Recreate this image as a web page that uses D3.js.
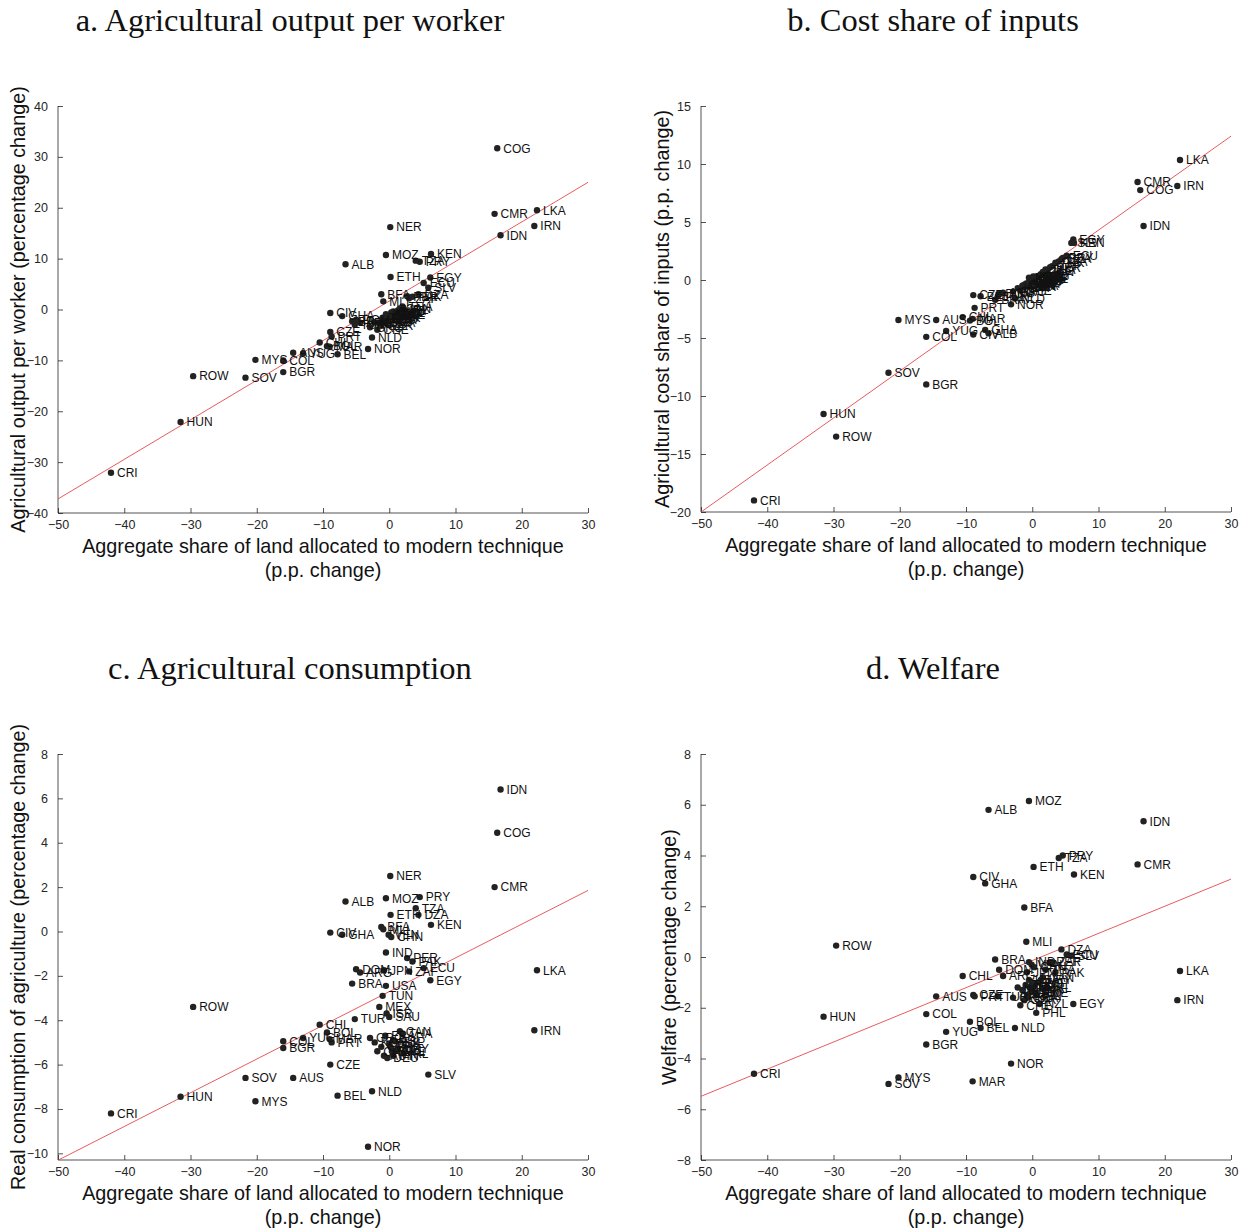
<!DOCTYPE html>
<html>
<head>
<meta charset="utf-8">
<script src="https://cdn.jsdelivr.net/npm/d3@7/dist/d3.min.js"></script>
<style>
  html, body { margin: 0; padding: 0; background: #fff; }
  svg { display: block; }
</style>
</head>
<body>
<svg id="chart" width="1247" height="1230"></svg>
<script>
// Country codes and the common x variable (aggregate share of land under the modern technique, p.p. change)
const countries = [
  "CRI","HUN","ROW","SOV","MYS","BGR","COL","AUS","YUG","CHL",
  "BOL","MAR","CIV","CZE","PRT","BEL","GHA","ALB","BRA","TUR",
  "DOM","ARG","NOR","NLD","GRC","KOR","CHE","GBR","MEX","TUN",
  "BFA","MLI","JPN","AUT","FRA","MOZ","USA","IND","ISR","DEU",
  "VEN","DNK","SAU","NER","ETH","ITA","CHN","SWE","FIN","PHL",
  "ESP","NZL","URY","CAN","THA","IRL","PER","ZAF","PAK","TZA",
  "DZA","PRY","ECU","SLV","EGY","KEN","CMR","COG","IDN","LKA",
  "IRN"
];
const landShare = [
  -42.0,-31.5,-29.6,-21.7,-20.2,-16.0,-16.0,-14.5,-13.0,-10.5,
  -9.4,-9.0,-8.9,-8.9,-8.7,-7.8,-7.1,-6.6,-5.6,-5.2,
  -5.0,-4.4,-3.2,-2.6,-2.9,-2.2,-1.8,-1.2,-1.5,-1.0,
  -1.2,-0.9,-0.8,-0.8,-0.6,-0.5,-0.5,-0.5,-0.4,-0.3,
  -0.1,0.0,0.0,0.15,0.2,0.2,0.3,0.4,0.6,0.6,
  0.9,1.1,1.3,1.6,2.0,2.2,2.7,3.0,3.5,4.0,
  4.4,4.6,5.2,5.9,6.2,6.3,15.9,16.3,16.8,22.3,
  21.9
];
// a. Agricultural output per worker (percentage change)
const outputPerWorker = [
  -32.1,-22.1,-13.1,-13.4,-9.9,-12.3,-10.0,-8.5,-8.6,-6.5,
  -7.2,-7.3,-0.7,-4.4,-5.3,-8.8,-1.3,8.9,-2.3,-3.0,
  -2.0,-2.6,-7.75,-5.5,-3.5,-2.5,-4.0,-3.2,-2.7,-1.6,
  3.0,1.6,-1.8,-2.2,-2.6,10.7,-2.0,-0.9,-1.6,-1.9,
  -1.2,-1.7,-1.0,16.2,6.4,-1.3,-0.6,-1.1,-1.4,-0.4,
  -0.8,-0.6,-0.2,0.2,0.6,0.0,2.6,2.2,2.5,9.6,
  3.0,9.4,5.2,4.3,6.3,10.9,18.8,31.7,14.6,19.5,
  16.4
];
// b. Agricultural cost share of inputs (p.p. change)
const inputCostShare = [
  -19.0,-11.55,-13.5,-8.0,-3.45,-9.0,-4.9,-3.45,-4.4,-3.2,
  -3.5,-3.35,-4.7,-1.3,-2.4,-1.4,-4.3,-4.6,-1.7,-1.4,
  -1.2,-1.1,-2.1,-1.6,-1.0,-0.7,-0.9,-0.6,-0.5,-0.5,
  -0.4,-0.3,-0.4,-0.4,-0.5,0.2,-0.3,-0.2,-0.3,-0.2,
  -0.1,0.0,-0.1,0.3,0.2,0.0,0.1,0.1,0.2,0.3,
  0.3,0.4,0.5,0.7,0.9,0.8,1.1,1.2,1.5,1.6,
  1.8,1.9,2.1,3.2,3.5,3.2,8.45,7.75,4.65,10.35,
  8.1
];
// c. Real consumption of agriculture (percentage change)
const agConsumption = [
  -8.2,-7.45,-3.4,-6.6,-7.65,-5.25,-4.95,-6.6,-4.8,-4.2,
  -4.55,-4.85,-0.05,-6.0,-5.0,-7.4,-0.15,1.35,-2.35,-3.95,
  -1.7,-1.85,-9.7,-7.2,-4.8,-5.0,-5.4,-5.2,-3.4,-2.9,
  0.2,0.1,-1.75,-5.6,-4.7,1.5,-2.45,-0.95,-3.7,-5.7,
  -0.15,-5.05,-3.85,2.5,0.75,-5.2,-0.25,-5.4,-5.6,-4.9,
  -4.95,-5.35,-5.3,-4.5,-4.6,-5.5,-1.2,-1.8,-1.35,1.05,
  0.75,1.55,-1.65,-6.45,-2.2,0.3,2.0,4.45,6.4,-1.75,
  -4.45
];
// d. Welfare (percentage change)
const welfare = [
  -4.6,-2.35,0.45,-5.0,-4.75,-3.45,-2.25,-1.55,-2.95,-0.75,
  -2.55,-4.9,3.15,-1.5,-1.55,-2.8,2.9,5.8,-0.1,-1.55,
  -0.5,-0.75,-4.2,-2.8,-1.6,-1.2,-1.9,-1.7,-1.3,-1.1,
  1.95,0.6,-0.6,-1.5,-1.6,6.15,-0.9,-0.2,-1.2,-1.4,
  -0.3,-1.3,-1.0,9.6,3.55,-1.15,-0.4,-1.4,-1.5,-2.2,
  -1.0,-1.85,-0.9,-0.8,-0.5,-1.2,-0.2,-0.2,-0.6,3.9,
  0.3,4.0,0.1,0.05,-1.85,3.25,3.65,9.0,5.35,-0.55,
  -1.7
];

// Fitted linear trend per panel (intercept, slope)
const fitIntercepts = [1.66, 0.25, -2.71, -0.14];
const fitSlopes = [0.778, 0.405, 0.152, 0.107];

// Axis ticks
const xTicks = [-50, -40, -30, -20, -10, 0, 10, 20, 30];
const yTicksA = [-40, -30, -20, -10, 0, 10, 20, 30, 40];
const yTicksB = [-20, -15, -10, -5, 0, 5, 10, 15];
const yTicksC = [-10, -8, -6, -4, -2, 0, 2, 4, 6, 8];
const yTicksD = [-8, -6, -4, -2, 0, 2, 4, 6, 8];

const titles = ["a. Agricultural output per worker", "b. Cost share of inputs",
                "c. Agricultural consumption", "d. Welfare"];
const yLabels = ["Agricultural output per worker (percentage change)",
                 "Agricultural cost share of inputs (p.p. change)",
                 "Real consumption of agriculture (percentage change)",
                 "Welfare (percentage change)"];
const xLabelLines = ["Aggregate share of land allocated to modern technique", "(p.p. change)"];

const panels = [
  { values: outputPerWorker, yDomain: [-40, 40], yTicks: yTicksA, left: 58, top: 106, bottom: 513, yLabelX: 18 },
  { values: inputCostShare, yDomain: [-20, 15], yTicks: yTicksB, left: 701, top: 106, bottom: 512, yLabelX: 662 },
  { values: agConsumption, yDomain: [-10.3, 8], yTicks: yTicksC, left: 58, top: 754, bottom: 1160, yLabelX: 18 },
  { values: welfare, yDomain: [-8, 8], yTicks: yTicksD, left: 701, top: 754, bottom: 1160, yLabelX: 669 }
];
const plotWidth = 530;
const axisColor = "#262626";
const sans = "'Liberation Sans', Arial, Helvetica, sans-serif";
const serif = "'Liberation Serif', 'Times New Roman', serif";

const svg = d3.select("#chart");

panels.forEach((p, i) => {
  const right = p.left + plotWidth;
  const x = d3.scaleLinear().domain([-50, 30]).range([p.left, right]);
  const y = d3.scaleLinear().domain(p.yDomain).range([p.bottom, p.top]);
  const g = svg.append("g");

  const clipId = "clip" + i;
  svg.append("clipPath").attr("id", clipId)
    .append("rect").attr("x", p.left).attr("y", p.top)
    .attr("width", plotWidth).attr("height", p.bottom - p.top);

  // title
  g.append("text")
    .attr("x", (p.left + right) / 2 - 33)
    .attr("y", p.top - 75)
    .attr("text-anchor", "middle")
    .attr("font-family", serif)
    .attr("font-size", 32.5)
    .attr("fill", "#111")
    .text(titles[i]);

  // axes (inward ticks, left and bottom only)
  const xAxis = d3.axisBottom(x).tickValues(xTicks).tickSize(-5).tickPadding(10).tickFormat(d3.format("d"));
  const yAxis = d3.axisLeft(y).tickValues(p.yTicks).tickSize(-5).tickPadding(10).tickFormat(d3.format("d"));
  const gx = g.append("g").attr("transform", `translate(0,${p.bottom})`).call(xAxis);
  const gy = g.append("g").attr("transform", `translate(${p.left},0)`).call(yAxis);
  [gx, gy].forEach(ax => {
    ax.select(".domain").attr("stroke", axisColor).attr("stroke-width", 0.8);
    ax.selectAll(".tick line").attr("stroke", axisColor).attr("stroke-width", 0.8);
    ax.selectAll(".tick text").attr("fill", axisColor)
      .attr("font-family", sans).attr("font-size", 12.5);
  });
  gx.select(".domain").attr("d", `M${p.left},0H${right}`);
  gy.select(".domain").attr("d", `M0,${p.bottom}V${p.top}`);
  gx.selectAll(".tick text").attr("dy", "0.5em");

  // axis labels
  const xl = g.append("text")
    .attr("text-anchor", "middle")
    .attr("font-family", sans)
    .attr("font-size", 19.8)
    .attr("fill", "#111");
  xLabelLines.forEach((t, k) => {
    xl.append("tspan").attr("x", (p.left + right) / 2)
      .attr("y", p.bottom + 40 + k * 24).text(t);
  });
  g.append("text")
    .attr("transform", `translate(${p.yLabelX},${(p.top + p.bottom) / 2}) rotate(-90)`)
    .attr("text-anchor", "middle")
    .attr("dy", "0.35em")
    .attr("font-family", sans)
    .attr("font-size", 19.8)
    .attr("fill", "#111")
    .text(yLabels[i]);

  const plot = g.append("g").attr("clip-path", `url(#${clipId})`);

  // fitted line
  const a0 = fitIntercepts[i], b1 = fitSlopes[i];
  plot.append("line")
    .attr("x1", x(-50)).attr("y1", y(a0 + b1 * -50))
    .attr("x2", x(30)).attr("y2", y(a0 + b1 * 30))
    .attr("stroke", "#e5484b")
    .attr("stroke-width", 0.9);

  // points and country labels
  const rows = countries.map((c, k) => ({ code: c, xv: landShare[k], yv: p.values[k] }))
    .filter(d => d.yv >= p.yDomain[0] && d.yv <= p.yDomain[1]);

  plot.selectAll("circle").data(rows).join("circle")
    .attr("cx", d => x(d.xv)).attr("cy", d => y(d.yv))
    .attr("r", 3.2)
    .attr("fill", "#222");

  g.append("g").selectAll("text").data(rows).join("text")
    .attr("x", d => x(d.xv) + 6)
    .attr("y", d => y(d.yv))
    .attr("dy", "0.36em")
    .attr("font-family", sans)
    .attr("font-size", 12)
    .attr("fill", "#111")
    .text(d => d.code);
});
</script>
</body>
</html>
